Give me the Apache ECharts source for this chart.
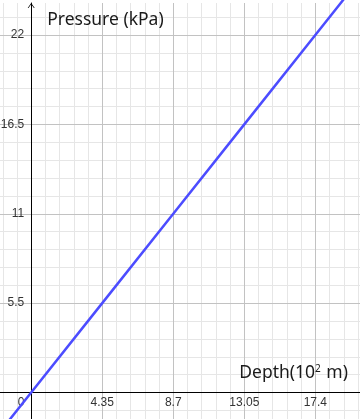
<!DOCTYPE html>
<html>
<head>
<meta charset="utf-8">
<script src="https://cdn.jsdelivr.net/npm/echarts@6/dist/echarts.min.js"></script>
<style>
html,body{margin:0;padding:0;background:#fff;}
#chart{width:360px;height:419px;}
</style>
</head>
<body>
<div id="chart"></div>
<script>
// ---- data ----
const depth = [-1.74, 0, 4.35, 8.7, 13.05, 17.4, 19.14];      // 10^2 m
const pressure = [-2.2, 0, 5.5, 11, 16.5, 22, 24.2];         // kPa
const xTickValues = [0, 4.35, 8.7, 13.05, 17.4];
const xTickLabels = ['0', '4.35', '8.7', '13.05', '17.4'];
const yTickValues = [5.5, 11, 16.5, 22];
const yTickLabels = ['5.5', '11', '16.5', '22'];
const xTitle = 'Depth(10';
const xTitleSup = '2';
const xTitleEnd = ' m)';
const yTitle = 'Pressure (kPa)';

// ---- layout ----
const X_MIN = -4.35, X_MAX = 21.75, X_MAJOR = 4.35, X_MINOR = 0.87;
const Y_MIN = -5.5, Y_MAX = 23.97, Y_MAJOR = 5.5, Y_MINOR = 1.1;
const MINOR_COLOR = '#e6e6e6', MAJOR_COLOR = '#c2c2c2';
const LABEL_FONT = 'Liberation Sans, Arial, sans-serif';
const TITLE_FONT = 'Noto Sans, Open Sans, sans-serif';

function findLabel(values, labels, v) {
  for (let i = 0; i < values.length; i++) {
    if (Math.abs(values[i] - v) < 1e-6) return labels[i];
  }
  return '';
}

const chart = echarts.init(document.getElementById('chart'), null, {renderer: 'canvas'});

function gridAxis(dim, interval, color, z) {
  const isX = dim === 'x';
  return {
    type: 'value',
    gridIndex: 0,
    min: isX ? X_MIN : Y_MIN,
    max: isX ? X_MAX : Y_MAX,
    interval: interval,
    z: z,
    axisLine: {show: false, onZero: false},
    axisTick: {show: false},
    axisLabel: {show: false},
    splitLine: {show: true, showMinLine: true, showMaxLine: false, lineStyle: {color: color, width: 1}}
  };
}

const option = {
  backgroundColor: '#ffffff',
  animation: false,
  grid: [
    // full plotting area (extends past the canvas so ticks start on multiples)
    {left: -39.84, right: -26.38, top: 3, bottom: -62.88, containLabel: false, outerBoundsMode: 'none'},
    // quadrant starting at the origin, used for tick labels
    {left: 31.2, right: -26.38, top: 3, bottom: 26.5, containLabel: false, outerBoundsMode: 'none'}
  ],
  xAxis: [
    gridAxis('x', X_MINOR, MINOR_COLOR, 0),
    gridAxis('x', X_MAJOR, MAJOR_COLOR, 1),
    {
      type: 'value', gridIndex: 0,
      min: X_MIN, max: X_MAX, interval: X_MAJOR,
      z: 2,
      position: 'bottom',
      axisLine: {show: true, onZero: true, onZeroAxisIndex: 2, lineStyle: {color: '#000', width: 1}},
      axisTick: {show: false},
      splitLine: {show: false},
      axisLabel: {show: false},
      name: '{a|' + xTitle + '}{s|' + xTitleSup + '}{a|' + xTitleEnd + '}',
      nameLocation: 'end',
      nameGap: -38.4,
      nameTextStyle: {
        align: 'right', verticalAlign: 'bottom', padding: [0, 0, 11, 0],
        rich: {
          a: {fontSize: 17.5, fontFamily: TITLE_FONT, color: '#1a1a1a', lineHeight: 17},
          s: {fontSize: 10, fontFamily: TITLE_FONT, color: '#1a1a1a', lineHeight: 10, padding: [0, 1, 7, 0]}
        }
      }
    },
    {
      type: 'value', gridIndex: 1,
      min: 0, max: X_MAX, interval: X_MAJOR,
      z: 2,
      position: 'bottom',
      axisLine: {show: false, onZero: false},
      axisTick: {show: false},
      splitLine: {show: false},
      axisLabel: {
        show: true, margin: 4, fontSize: 12, fontFamily: LABEL_FONT, color: '#333',
        showMinLabel: true, showMaxLabel: true, hideOverlap: false,
        formatter: function (v) {
          const s = findLabel(xTickValues, xTickLabels, v);
          if (s === '0') return '{z|0}';
          return s;
        },
        rich: {z: {fontSize: 12, fontFamily: LABEL_FONT, color: '#333', padding: [0, 20, 0, 0]}}
      }
    }
  ],
  yAxis: [
    gridAxis('y', Y_MINOR, MINOR_COLOR, 0),
    gridAxis('y', Y_MAJOR, MAJOR_COLOR, 1),
    {
      type: 'value', gridIndex: 0,
      min: Y_MIN, max: Y_MAX, interval: Y_MAJOR,
      z: 2,
      position: 'left',
      axisLine: {
        show: true, onZero: true, onZeroAxisIndex: 2,
        lineStyle: {color: '#000', width: 1},
        symbol: ['none', 'path://M0,10 L7,0 L14,10 L12.4,10 L7,2.6 L1.6,10 Z'],
        symbolSize: [7, 5],
        symbolOffset: [0, -2.5]
      },
      axisTick: {show: false},
      splitLine: {show: false},
      axisLabel: {show: false},
      name: yTitle,
      nameLocation: 'end',
      nameGap: 0,
      nameTextStyle: {
        align: 'left', verticalAlign: 'top', padding: [9, 0, 0, 16],
        fontSize: 17.5, fontFamily: TITLE_FONT, color: '#1a1a1a', lineHeight: 17
      }
    },
    {
      type: 'value', gridIndex: 1,
      min: 0, max: Y_MAX, interval: Y_MAJOR,
      z: 2,
      position: 'left',
      axisLine: {show: false, onZero: false},
      axisTick: {show: false},
      splitLine: {show: false},
      axisLabel: {
        show: true, margin: 7, fontSize: 12, fontFamily: LABEL_FONT, color: '#333',
        showMinLabel: true, showMaxLabel: true, hideOverlap: false,
        formatter: function (v) { return findLabel(yTickValues, yTickLabels, v); }
      }
    }
  ],
  series: [{
    type: 'line',
    xAxisIndex: 2,
    yAxisIndex: 2,
    z: 3,
    clip: false,
    showSymbol: false,
    symbol: 'none',
    silent: true,
    lineStyle: {color: '#4c4cff', width: 2.5},
    data: depth.map(function (d, i) { return [d, pressure[i]]; })
  }]
};
chart.setOption(option);
</script>
</body>
</html>
